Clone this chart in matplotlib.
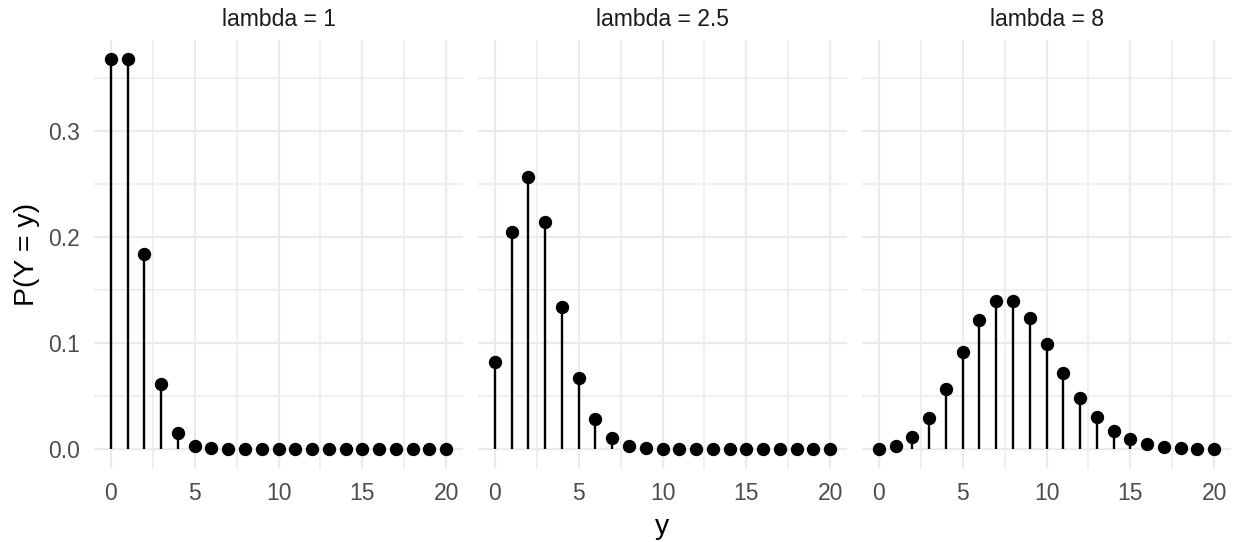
import matplotlib
matplotlib.use("Agg")
import matplotlib.pyplot as plt
import numpy as np

plt.rcParams['font.family'] = ['Liberation Sans', 'DejaVu Sans']

panel_titles = ["lambda = 1", "lambda = 2.5", "lambda = 8"]
y_values = list(range(0, 21))
prob_lambda_1 = [0.368, 0.368, 0.184, 0.061, 0.015, 0.003, 0.0005, 0.0001, 0.0, 0.0,
                 0.0, 0.0, 0.0, 0.0, 0.0, 0.0, 0.0, 0.0, 0.0, 0.0, 0.0]
prob_lambda_2_5 = [0.082, 0.205, 0.257, 0.214, 0.134, 0.067, 0.028, 0.010, 0.003, 0.001,
                   0.0002, 0.0, 0.0, 0.0, 0.0, 0.0, 0.0, 0.0, 0.0, 0.0, 0.0]
prob_lambda_8 = [0.0003, 0.0027, 0.011, 0.029, 0.057, 0.092, 0.122, 0.140, 0.140, 0.124,
                 0.099, 0.072, 0.048, 0.030, 0.017, 0.009, 0.0045, 0.0021, 0.0009, 0.0004, 0.0002]
x_ticks = [0, 5, 10, 15, 20]
y_ticks = [0.0, 0.1, 0.2, 0.3]
y_tick_labels = ["0.0", "0.1", "0.2", "0.3"]

series = [prob_lambda_1, prob_lambda_2_5, prob_lambda_8]

W, H = 1235, 542
fig = plt.figure(figsize=(W / 100, H / 100), dpi=100)

lefts = [94, 478, 862]
pw = 369
top_px, bot_px = 39.5, 468.5
ymax = max(prob_lambda_1)
ylim = (-0.05 * ymax, 1.05 * ymax)
xlim = (-1.0, 21.0)

grid_col = "#EBEBEB"
for i, (lp, vals, title) in enumerate(zip(lefts, series, panel_titles)):
    ax = fig.add_axes([lp / W, 1 - bot_px / H, pw / W, (bot_px - top_px) / H])
    ax.set_xlim(*xlim)
    ax.set_ylim(*ylim)
    for s in ax.spines.values():
        s.set_visible(False)
    for xm in [2.5, 7.5, 12.5, 17.5]:
        ax.axvline(xm, color=grid_col, lw=1.1, zorder=0)
    for ym in [0.05, 0.15, 0.25, 0.35]:
        ax.axhline(ym, color=grid_col, lw=1.1, zorder=0)
    for xm in x_ticks:
        ax.axvline(xm, color=grid_col, lw=1.6, zorder=0)
    for ym in y_ticks:
        ax.axhline(ym, color=grid_col, lw=1.6, zorder=0)
    ax.vlines(y_values, 0, vals, color="black", lw=1.7, zorder=2)
    ax.plot(y_values, vals, "o", color="black", ms=8.6, zorder=3)
    ax.set_xticks(x_ticks)
    ax.set_xticklabels([str(t) for t in x_ticks])
    ax.tick_params(axis="both", length=0, labelsize=16.5, labelcolor="#4D4D4D")
    ax.tick_params(axis="x", pad=10)
    ax.tick_params(axis="y", pad=10)
    ax.set_yticks(y_ticks)
    if i == 0:
        ax.set_yticklabels(y_tick_labels)
        ax.set_ylabel("P(Y = y)", fontsize=20.5, color="black", labelpad=6)
    else:
        ax.set_yticklabels([])
    if i == 1:
        ax.set_xlabel("y", fontsize=20.5, color="black", labelpad=6)
    ax.set_title(title, fontsize=16.5, color="#1A1A1A", pad=10)

fig.savefig("out.png", dpi=100, facecolor="white")
